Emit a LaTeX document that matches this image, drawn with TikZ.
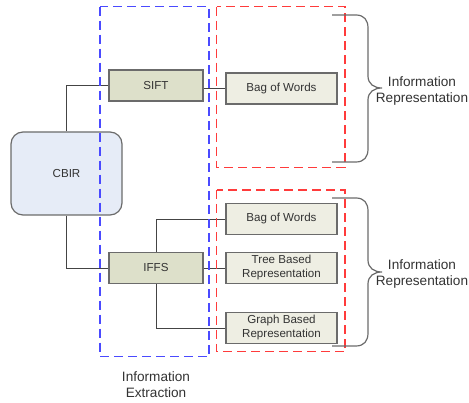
\documentclass[tikz,border=0pt]{standalone}
\usepackage{fontspec}
\setmainfont{Liberation Sans}
\definecolor{boxdark}{HTML}{DDE0CA}
\definecolor{boxlight}{HTML}{EEEEE3}
\definecolor{cbirfill}{HTML}{E6ECF7}
\definecolor{edgegray}{HTML}{6B6B6B}
\definecolor{linegray}{HTML}{444444}
\definecolor{txt}{HTML}{333333}
\definecolor{dblue}{HTML}{4A4AFF}
\definecolor{dred}{HTML}{FF3B3B}
\tikzset{
  boxbase/.style={draw=edgegray, line width=0.9pt, rectangle, inner sep=0pt, align=center, text=txt,
    font=\fontsize{8.7}{10.5}\selectfont},
  extbox/.style={boxbase, fill=boxdark, minimum width=70.5pt, minimum height=23.25pt},
  repbox/.style={boxbase, fill=boxlight, minimum width=83.25pt, minimum height=23.25pt},
  cbirbox/.style={boxbase, fill=cbirfill, minimum width=83.25pt, minimum height=62.25pt, rounded corners=9pt},
  conn/.style={draw=linegray, line width=0.7pt},
  bluebox/.style={draw=dblue, line width=1.1pt, dash pattern=on 6.75pt off 3.75pt},
  redbox/.style={draw=dred, line width=1.1pt, dash pattern=on 6.75pt off 3.75pt},
  bracestyle/.style={draw=edgegray, line width=0.9pt},
  lbl/.style={align=center, text=txt, font=\fontsize{10.2}{12}\selectfont, inner sep=0pt}
}
\begin{document}
\begin{tikzpicture}[x=0.75pt,y=-0.75pt]
\useasboundingbox (0,0) rectangle (469,403);
% nodes
\node[cbirbox] (cbir) at (66.5,173.5) {CBIR};
\node[extbox] (sift) at (156,85.5) {SIFT};
\node[extbox] (iffs) at (156,268) {IFFS};
\node[repbox] (bow1) at (281.5,88.5) {Bag of Words};
\node[repbox] (bow2) at (281.5,219) {Bag of Words};
\node[repbox] (tree) at (281.5,268) {Tree Based\\Representation};
\node[repbox] (graph) at (281.5,328) {Graph Based\\Representation};
% connectors
\draw[conn] (cbir.north) |- (sift.west);
\draw[conn] (cbir.south) |- (iffs.west);
\draw[conn] (bow1.west -| sift.east) -- (bow1.west);
\draw[conn] (iffs.north) |- (bow2.west);
\draw[conn] (iffs.east) -- (tree.west);
\draw[conn] (iffs.south) |- (graph.west);
% dashed groups
\draw[bluebox] (100,6.7) rectangle (209,356.7);
\draw[redbox] (216.7,6.7) rectangle (345,167.3);
\draw[redbox] (216.7,190) rectangle (345,351.7);
% braces
\draw[bracestyle] (332,15) -- (356,15) .. controls (364,15) and (368,20) .. (368,28) -- (368,76)
  .. controls (368,84) and (374,88) .. (382,88) .. controls (374,88) and (368,92) .. (368,100)
  -- (368,149) .. controls (368,157) and (364,162) .. (356,162) -- (332,162);
\draw[bracestyle] (332,198) -- (356,198) .. controls (364,198) and (368,203) .. (368,211) -- (368,260)
  .. controls (368,268) and (374,272) .. (382,272) .. controls (374,272) and (368,276) .. (368,284)
  -- (368,333) .. controls (368,341) and (364,346) .. (356,346) -- (332,346);
% labels
\node[lbl] (ir1) at (422,91) {Information\\Representation};
\node[lbl] (ir2) at (422,274) {Information\\Representation};
\node[lbl] (ie) at (156,385) {Information\\Extraction};
\end{tikzpicture}
\end{document}
